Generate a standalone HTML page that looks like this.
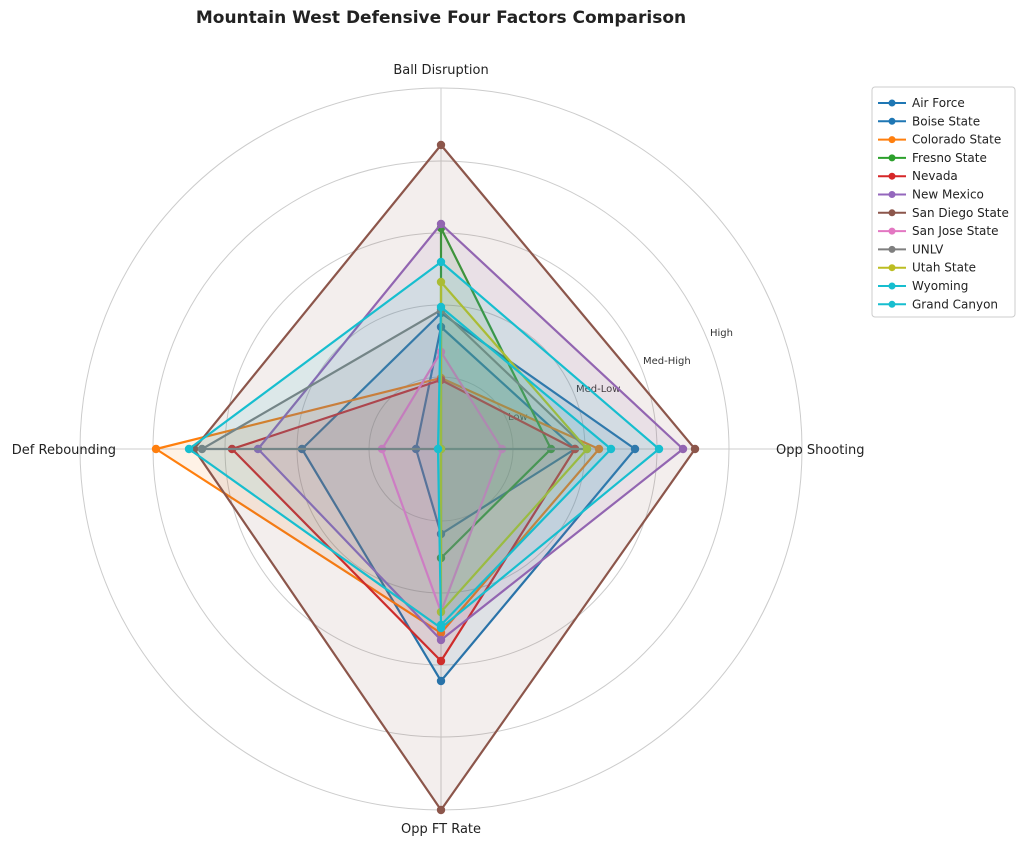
<!DOCTYPE html>
<html><head><meta charset="utf-8"><style>
body{margin:0;background:#fff;}
svg text{font-family:"DejaVu Sans","Liberation Sans",sans-serif;}
</style></head><body>
<svg id="s" width="1024" height="844" xmlns="http://www.w3.org/2000/svg">
<rect width="1024" height="844" fill="#fff"/>
<text x="441" y="23" text-anchor="middle" font-size="17" font-weight="bold" fill="#222">Mountain West Defensive Four Factors Comparison</text>
<g fill="none" stroke="#ccc" stroke-width="1">
<circle cx="441" cy="449" r="72"/><circle cx="441" cy="449" r="144"/><circle cx="441" cy="449" r="216"/><circle cx="441" cy="449" r="288"/><circle cx="441" cy="449" r="361"/>
<line x1="441" y1="88" x2="441" y2="810"/><line x1="80" y1="449" x2="802" y2="449"/>
</g>
<g font-size="10" fill="#333">
<text x="508" y="420">Low</text><text x="576" y="392">Med-Low</text><text x="643" y="364">Med-High</text><text x="710" y="336">High</text>
</g>
<g font-size="13" fill="#222">
<text x="441" y="74" text-anchor="middle">Ball Disruption</text>
<text x="776" y="454">Opp Shooting</text>
<text x="116" y="454" text-anchor="end">Def Rebounding</text>
<text x="441" y="833" text-anchor="middle">Opp FT Rate</text>
</g>
<g id="series"></g>
<g id="legend"></g>
</svg>
<script>
var cx=441,cy=449;
var d=[
["Air Force","#1f77b4",[136,194,232,139]],
["Boise State","#1f77b4",[122,134,85,25]],
["Colorado State","#ff7f0e",[71,158,184,285]],
["Fresno State","#2ca02c",[221,110,109,0]],
["Nevada","#d62728",[69,134,212,209]],
["New Mexico","#9467bd",[225,242,191,183]],
["San Diego State","#8c564b",[304,254,361,247]],
["San Jose State","#e377c2",[97,61,163,59]],
["UNLV","#7f7f7f",[139,146,0,239]],
["Utah State","#bcbd22",[167,146,163,0]],
["Wyoming","#17becf",[187,218,179,252]],
["Grand Canyon","#17becf",[142,170,176,3]]];
var g=document.getElementById("series"),h="";
d.forEach(function(t){var r=t[2];var p=[[cx,cy-r[0]],[cx+r[1],cy],[cx,cy+r[2]],[cx-r[3],cy]];
var s=p.map(function(q){return q[0]+","+q[1]}).join(" ");
h+='<polygon points="'+s+'" fill="'+t[1]+'" fill-opacity="0.1" stroke="'+t[1]+'" stroke-width="2.2" stroke-linejoin="miter"/>';
p.forEach(function(q){h+='<circle cx="'+q[0]+'" cy="'+q[1]+'" r="4.2" fill="'+t[1]+'"/>';});});
g.innerHTML=h;
var L='<rect x="872" y="87" width="143" height="230" rx="3" fill="#fff" stroke="#ccc"/>';
d.forEach(function(t,i){var y=103+i*18.3;
L+='<line x1="878" y1="'+y+'" x2="906" y2="'+y+'" stroke="'+t[1]+'" stroke-width="2"/><circle cx="892" cy="'+y+'" r="3.5" fill="'+t[1]+'"/><text x="912" y="'+(y+4)+'" font-size="12" fill="#222">'+t[0]+'</text>';});
document.getElementById("legend").innerHTML=L;
</script>
</body></html>
